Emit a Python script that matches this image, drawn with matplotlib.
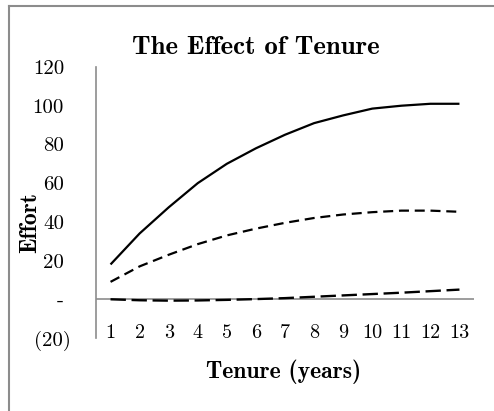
import matplotlib.pyplot as plt
import matplotlib.transforms as mtransforms
from matplotlib.lines import Line2D

# values
tenure = list(range(1, 14))
effort_total = [18, 34, 47.5, 60, 70, 78, 85, 91, 95, 98.5, 100, 101, 101]
effort_mid = [9, 17, 23, 28.5, 33, 36.5, 39.5, 42, 43.8, 45, 45.8, 45.8, 45.2]
effort_low = [0, -0.5, -0.7, -0.6, -0.3, 0.1, 0.6, 1.3, 2.0, 2.7, 3.4, 4.2, 5.0]
y_ticks = [-20, 0, 20, 40, 60, 80, 100, 120]
y_tick_labels = ['(20)', '-', '20', '40', '60', '80', '100', '120']

W, H = 494, 411
GRAY = '#8c8c8c'

fig = plt.figure(figsize=(W / 100, H / 100), dpi=100)
ax = fig.add_axes([96 / W, 1 - 338 / H, (474 - 96) / W, (338 - 67) / H])

ax.plot(tenure, effort_total, color='black', lw=1.6, solid_capstyle='butt')
ax.plot(tenure, effort_mid, color='black', lw=1.6, dashes=(4.5, 2.6))
ax.plot(tenure, effort_low, color='black', lw=1.7, dashes=(6.5, 2.4))
ax.axhline(0, color=GRAY, lw=1.2, zorder=0)

ax.set_xlim(0.5, 13.5)
ax.set_ylim(-20, 120)
ax.set_xticks(tenure)
ax.set_xticklabels([str(t) for t in tenure], family='cmr10', fontsize=14.5)
ax.set_yticks(y_ticks)
ax.set_yticklabels(y_tick_labels, family='cmr10', fontsize=15)
ax.tick_params(axis='x', length=0, pad=-10)
ax.tick_params(axis='y', length=0, pad=23)

# accounting-style format: the closing parenthesis hangs past the digits
shift = mtransforms.ScaledTranslation(7 / 100, 0, fig.dpi_scale_trans)
for lbl in ax.get_yticklabels():
    if lbl.get_text().startswith('('):
        lbl.set_transform(lbl.get_transform() + shift)

for side in ['top', 'right', 'bottom']:
    ax.spines[side].set_visible(False)
ax.spines['left'].set_color(GRAY)
ax.spines['left'].set_linewidth(1.2)

fig.text(256 / W, 1 - 47 / H, 'The Effect of Tenure', family='cmb10',
         fontsize=19.3, ha='center', va='center')
fig.text(284 / W, 1 - 372 / H, 'Tenure (years)', family='cmb10',
         fontsize=17, ha='center', va='center')
fig.text(30 / W, 1 - 222 / H, 'Effort', family='cmb10', fontsize=17,
         rotation=90, ha='center', va='center')

# outer chart frame (only left and top edges visible)
fig.add_artist(Line2D([8.5 / W, 8.5 / W], [0, 1 - 6.5 / H],
                      transform=fig.transFigure, color=GRAY, lw=1.5))
fig.add_artist(Line2D([8.5 / W, 1], [1 - 6.5 / H, 1 - 6.5 / H],
                      transform=fig.transFigure, color=GRAY, lw=1.5))

fig.savefig('out.png', dpi=100)
